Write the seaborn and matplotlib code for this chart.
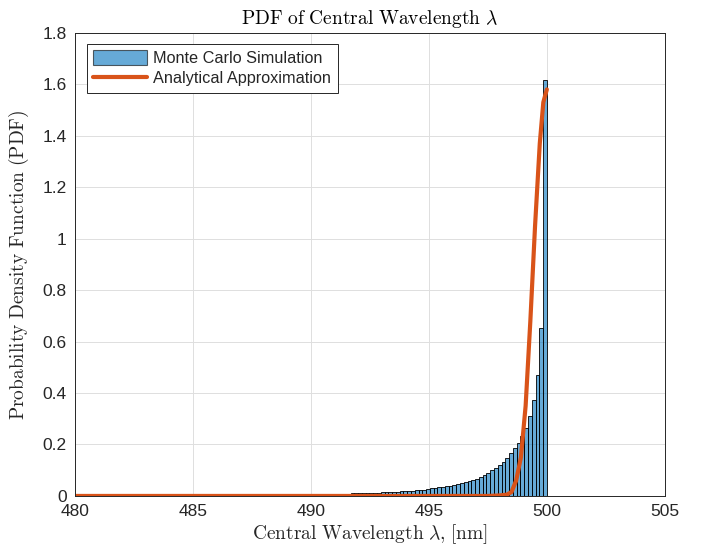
import numpy as np
import pandas as pd
import matplotlib
matplotlib.use('Agg')
import matplotlib.pyplot as plt
import seaborn as sns
from matplotlib.patches import Patch
from matplotlib.lines import Line2D
from matplotlib.ticker import FormatStrFormatter

# Histogram of the Monte Carlo runs: 100 bins of 0.16 nm from 484 to 500 nm (PDF-normalised heights)
bin_lo = 484.0
bin_hi = 500.0
n_bins = 100
mc_pdf = [
    0, 0, 0, 0, 0, 0, 0, 0, 0, 0,
    0, 0, 0, 0, 0, 0, 0, 0, 0, 0.0001,
    0.0001, 0.0001, 0.0002, 0.0002, 0.0002, 0.0003, 0.0003, 0.0003, 0.0004, 0.0004,
    0.0005, 0.0006, 0.0007, 0.0008, 0.0009, 0.0011, 0.0013, 0.0015, 0.0018, 0.0021,
    0.0024, 0.0027, 0.003, 0.0035, 0.003, 0.004, 0.006, 0.0095, 0.0098, 0.010,
    0.0102, 0.0106, 0.011, 0.0115, 0.012, 0.013, 0.0135, 0.014, 0.015, 0.016,
    0.017, 0.018, 0.019, 0.020, 0.021, 0.022, 0.024, 0.025, 0.027, 0.029,
    0.031, 0.033, 0.035, 0.037, 0.040, 0.043, 0.046, 0.049, 0.053, 0.057,
    0.062, 0.067, 0.073, 0.082, 0.089, 0.100, 0.110, 0.120, 0.133, 0.149,
    0.166, 0.185, 0.205, 0.234, 0.263, 0.312, 0.373, 0.471, 0.652, 1.617,
]

# Analytical approximation of the PDF
approx_lambda = [480.0, 497.5, 498.0, 498.3, 498.5, 498.7, 498.9, 499.1, 499.3, 499.5, 499.7, 499.85, 500.0]
approx_pdf = [0.0, 0.0, 0.002, 0.005, 0.015, 0.06, 0.15, 0.35, 0.68, 1.05, 1.37, 1.53, 1.58]

mc_color = '#0072BD'
approx_color = '#D95319'

sns.set_theme(style='whitegrid')
plt.rcParams['font.family'] = ['Liberation Sans', 'DejaVu Sans']
plt.rcParams['mathtext.fontset'] = 'cm'

fig = plt.figure(figsize=(7.08, 5.56), dpi=100)
ax = fig.add_axes([0.106, 0.108, 0.833, 0.833])

bin_w = (bin_hi - bin_lo) / n_bins
edges = np.linspace(bin_lo, bin_hi, n_bins + 1)
hist_df = pd.DataFrame({'lam': (edges[:-1] + edges[1:]) / 2, 'pdf': mc_pdf})
sns.histplot(data=hist_df, x='lam', weights='pdf', binwidth=bin_w, binrange=(bin_lo, bin_hi),
             stat='count', color=mc_color, alpha=0.6, edgecolor='black', linewidth=0.6, ax=ax)
sns.lineplot(x=approx_lambda, y=approx_pdf, color=approx_color, linewidth=3.0, ax=ax)

ax.set_xlim(480, 505)
ax.set_ylim(0, 1.8)
ax.set_xticks(np.arange(480, 506, 5))
ax.set_yticks(np.arange(0, 1.81, 0.2))
ax.yaxis.set_major_formatter(FormatStrFormatter('%g'))
ax.tick_params(direction='in', length=4, width=0.6, colors='#262626', labelsize=12.5, pad=6)

ax.grid(True, color='#dedede', linewidth=0.7)
for s in ax.spines.values():
    s.set_color('#262626')
    s.set_linewidth(0.7)

ax.set_title(r'$\mathrm{PDF\ of\ Central\ Wavelength\ }\lambda$', fontsize=14, color='black', pad=6)
ax.set_xlabel(r'$\mathrm{Central\ Wavelength\ }\lambda\mathrm{,}\;\mathrm{[nm]}$', fontsize=14,
              color='#262626', labelpad=2)
ax.set_ylabel(r'$\mathrm{Probability\ Density\ Function\ (PDF)}$', fontsize=14, color='#262626', labelpad=8)

handles = [Patch(facecolor=mc_color, alpha=0.6, edgecolor='black', linewidth=0.8),
           Line2D([0], [0], color=approx_color, linewidth=3.0)]
leg = ax.legend(handles, ['Monte Carlo Simulation', 'Analytical Approximation'],
                loc='upper left', bbox_to_anchor=(0.02, 0.976), fontsize=11.7,
                fancybox=False, framealpha=1, edgecolor='#262626',
                handlelength=3.3, handleheight=1.0, borderpad=0.4, labelspacing=0.25,
                handletextpad=0.4, borderaxespad=0)
leg.get_frame().set_linewidth(0.7)

fig.savefig('out.png', dpi=100)
